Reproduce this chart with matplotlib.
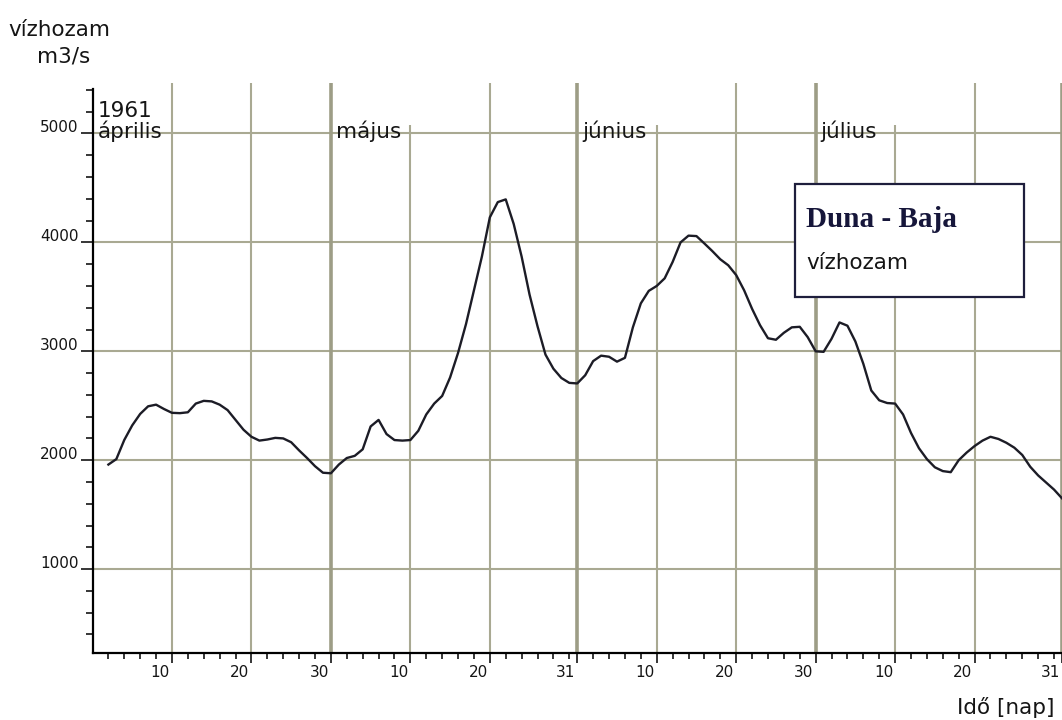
import matplotlib
matplotlib.use("Agg")
import matplotlib.pyplot as plt
from matplotlib.patches import Rectangle

# Duna - Baja, daily discharge (m3/s), 1961 April-July.
# Day index counts from 31 March (1 = April 1, 31 = May 1, ...).
day = list(range(2, 123))
discharge = [
    1960, 2010, 2186, 2320, 2425, 2495, 2510, 2470, 2435,            # Apr 2-10
    2432, 2440, 2520, 2545, 2540, 2510, 2460, 2370, 2280, 2215,      # Apr 11-20
    2180, 2190, 2205, 2200, 2165, 2090, 2020, 1945, 1885, 1880,      # Apr 21-30
    1960, 2020, 2040, 2100, 2310, 2370, 2240, 2185, 2180, 2185,      # May 1-10
    2270, 2420, 2520, 2590, 2760, 2985, 3250, 3560, 3870, 4230,      # May 11-20
    4370, 4395, 4170, 3870, 3520, 3230, 2970, 2840, 2755, 2710, 2705,  # May 21-31
    2780, 2910, 2960, 2950, 2905, 2940, 3220, 3440, 3555, 3600,      # Jun 1-10
    3670, 3820, 4000, 4062, 4058, 3990, 3920, 3845, 3790, 3700,      # Jun 11-20
    3560, 3390, 3240, 3120, 3106, 3170, 3220, 3225, 3130, 3000,      # Jun 21-30
    2995, 3115, 3265, 3235, 3090, 2885, 2640, 2550, 2525, 2520,      # Jul 1-10
    2420, 2250, 2110, 2010, 1935, 1900, 1890, 2000, 2070, 2130,      # Jul 11-20
    2180, 2215, 2195, 2160, 2115, 2048, 1940, 1860, 1795, 1730, 1650,  # Jul 21-31
]

month_names = ["április", "május", "június", "július"]
month_start = [0, 30, 61, 91]
month_len = [30, 31, 30, 31]
year_label = "1961"

y_major = [1000, 2000, 3000, 4000, 5000]
y_labels = ["1000", "2000", "3000", "4000", "5000"]

title_main = "Duna - Baja"
title_sub = "vízhozam"
y_title = "vízhozam"
y_unit = "m3/s"
x_title = "Idő [nap]"

# ---- layout (pixels) ----
W, H = 1062, 720
px_left, px_right = 92.5, 1062
px_top, px_bottom = 83, 653
px_per_day = 8.0
px_y5000, px_per_1000 = 133.5, 108.9


def yval(py):
    return 5000 - (py - px_y5000) / px_per_1000 * 1000


grid_col = "#a9a992"
ink = "#151515"

fig = plt.figure(figsize=(W / 100, H / 100), dpi=100)
fig.patch.set_facecolor("white")
ax = fig.add_axes([px_left / W, (H - px_bottom) / H,
                   (px_right - px_left) / W, (px_bottom - px_top) / H])
ax.set_facecolor("white")

x_max = (px_right - px_left) / px_per_day
y_min, y_max = yval(px_bottom), yval(px_top)
ax.set_xlim(0, x_max)
ax.set_ylim(y_min, y_max)

# ---- grid ----
for v in y_major:
    ax.axhline(v, color=grid_col, lw=1.5, zorder=1)

short_top = yval(125)
for i, (s, n) in enumerate(zip(month_start, month_len)):
    for k in (10, 20):
        top = short_top if (k == 10 and i > 0) else y_max
        ax.vlines(s + k, y_min, top, color=grid_col, lw=1.5, zorder=1)
    ax.vlines(s + n, y_min, y_max, color="#9d9d86", lw=2.6, zorder=1)

# ---- data ----
ax.plot(day, discharge, color="#1c1c26", lw=1.7, zorder=3,
        solid_joinstyle="round")

# ---- axes ----
for side in ("top", "right"):
    ax.spines[side].set_visible(False)
for side in ("left", "bottom"):
    ax.spines[side].set_color("black")
    ax.spines[side].set_linewidth(1.6)
ax.spines["left"].set_bounds(y_min, yval(89))

# y ticks
y_minor = [v for v in range(400, 5401, 200) if v not in y_major]
ax.set_yticks(y_major)
ax.set_yticks(y_minor, minor=True)
ax.set_yticklabels([])
ax.tick_params(axis="y", which="major", length=9, width=1.1, color="black")
ax.tick_params(axis="y", which="minor", length=5, width=1.1, color="black")
for v, lab in zip(y_major, y_labels):
    ax.annotate(lab, xy=(0, v), xycoords=ax.get_yaxis_transform(),
                xytext=(-14, 1), textcoords="offset pixels",
                ha="right", va="baseline", fontsize=11, color=ink)

# x ticks
x_major, x_lab, x_minor = [], [], []
for s, n in zip(month_start, month_len):
    for k in (10, 20, n):
        x_major.append(s + k)
        x_lab.append(str(k))
    x_minor += [s + k for k in range(2, n, 2) if k not in (10, 20)]
ax.set_xticks(x_major)
ax.set_xticks(x_minor, minor=True)
ax.set_xticklabels([])
ax.tick_params(axis="x", which="major", length=7.5, width=1.1, color="black")
ax.tick_params(axis="x", which="minor", length=4.5, width=1.1, color="black")
for d, lab in zip(x_major, x_lab):
    ax.annotate(lab, xy=(d, 0), xycoords=ax.get_xaxis_transform(),
                xytext=(-2, -12), textcoords="offset pixels",
                ha="right", va="top", fontsize=11, color=ink,
                annotation_clip=False)

# month labels
lab_y = yval(138.5)
ax.text(0.6, yval(117), year_label, fontsize=15.5, color=ink,
        va="baseline", ha="left", zorder=4)
for s, name in zip(month_start, month_names):
    ax.text(s + 0.6, lab_y, name, fontsize=15.5, color=ink,
            va="baseline", ha="left", zorder=4)

# ---- axis titles ----
fig.text(8 / W, 1 - 36 / H, y_title, fontsize=15.5, color=ink,
         ha="left", va="baseline")
fig.text(37 / W, 1 - 62 / H, y_unit, fontsize=15.5, color=ink,
         ha="left", va="baseline")
fig.text(957 / W, 1 - 714 / H, x_title, fontsize=15.5, color=ink,
         ha="left", va="baseline")

# ---- caption box ----
bx0, by0, bx1, by1 = 795, 184, 1024, 297
fig.add_artist(Rectangle((bx0 / W, 1 - by1 / H), (bx1 - bx0) / W,
                         (by1 - by0) / H, transform=fig.transFigure,
                         facecolor="white", edgecolor="#1e1e3c", lw=1.6,
                         zorder=5))
fig.text(806 / W, 1 - 227 / H, title_main, fontsize=21,
         family="Liberation Serif", weight="bold", color="#16163a",
         ha="left", va="baseline", zorder=6)
fig.text(806 / W, 1 - 269 / H, title_sub, fontsize=15.5, color=ink,
         ha="left", va="baseline", zorder=6)

fig.savefig("out.png", dpi=100, facecolor="white")
